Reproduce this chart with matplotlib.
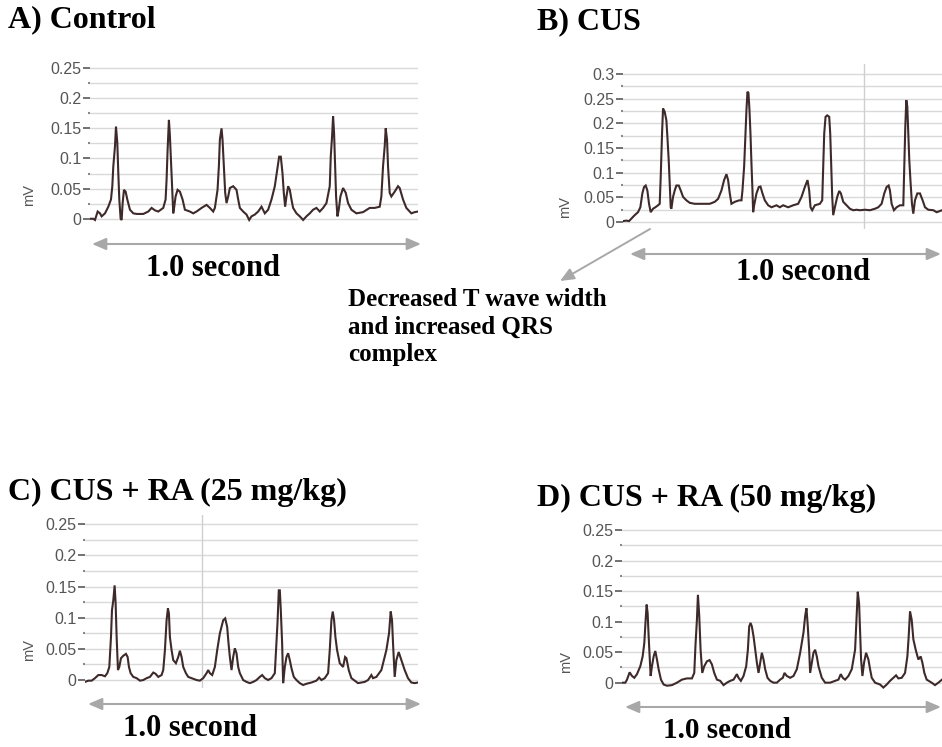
import matplotlib
matplotlib.use("Agg")
import matplotlib.pyplot as plt
import numpy as np

# ---------------- data (time in ms, voltage in mV) ----------------
ctrl_t = [0, 10, 15, 23, 30, 35, 45, 55, 63, 67, 70, 75, 78, 82, 85, 88, 92, 95, 98, 102, 107, 112, 120, 130, 140, 160,
          175, 185, 195, 205, 220, 227, 230, 233, 237, 240, 243, 247, 250, 253, 257, 263, 270, 278, 285, 300, 310, 320,
          335, 350, 360, 370, 375, 383, 387, 390, 395, 398, 402, 406, 410, 415, 420, 430, 440, 445, 450, 460, 470, 478,
          485, 495, 505, 515, 525, 535, 545, 555, 562, 568, 573, 578, 582, 586, 590, 595, 600, 605, 610, 620, 630, 640,
          650, 660, 670, 680, 690, 700, 710, 720, 723, 727, 730, 733, 736, 739, 743, 747, 752, 760, 768, 775, 785, 800,
          820, 840, 855, 870, 875, 880, 885, 888, 892, 895, 900, 905, 915, 925, 930, 940, 950, 965, 975, 985]
ctrl_mv = [0.0, 0.0, -0.002, 0.012, 0.009, 0.004, 0.009, 0.020, 0.032, 0.054, 0.087, 0.120, 0.153, 0.126, 0.076, 0.032,
           0.0, -0.002, 0.026, 0.048, 0.045, 0.032, 0.015, 0.009, 0.008, 0.008, 0.012, 0.018, 0.014, 0.012, 0.018, 0.032,
           0.065, 0.114, 0.164, 0.137, 0.098, 0.043, 0.009, 0.020, 0.037, 0.048, 0.045, 0.032, 0.015, 0.012, 0.009, 0.012,
           0.018, 0.023, 0.018, 0.012, 0.018, 0.048, 0.087, 0.131, 0.150, 0.131, 0.087, 0.043, 0.026, 0.037, 0.051, 0.054,
           0.048, 0.032, 0.018, 0.012, 0.007, -0.002, 0.004, 0.007, 0.012, 0.020, 0.009, 0.015, 0.032, 0.054, 0.081, 0.103,
           0.103, 0.076, 0.043, 0.020, 0.037, 0.054, 0.048, 0.032, 0.018, 0.009, 0.004, -0.002, 0.004, 0.009, 0.015, 0.018,
           0.012, 0.018, 0.026, 0.054, 0.103, 0.137, 0.170, 0.142, 0.087, 0.037, 0.004, 0.015, 0.037, 0.051, 0.043, 0.026,
           0.015, 0.009, 0.011, 0.018, 0.018, 0.020, 0.037, 0.087, 0.120, 0.150, 0.131, 0.087, 0.043, 0.037, 0.045, 0.054,
           0.051, 0.032, 0.018, 0.009, 0.011, 0.012]

cus_t = [0, 10, 18, 25, 35, 45, 52, 58, 63, 68, 73, 78, 83, 90, 97, 105, 110, 113, 117, 120, 125, 130, 133, 137, 140, 143,
         145, 150, 155, 160, 167, 173, 180, 190, 200, 215, 240, 260, 275, 285, 295, 303, 310, 315, 320, 325, 335, 348, 355,
         358, 363, 367, 370, 373, 376, 379, 382, 385, 388, 390, 393, 400, 407, 412, 418, 425, 435, 445, 460, 470, 480, 495,
         510, 525, 535, 545, 553, 558, 562, 567, 575, 590, 597, 600, 603, 607, 612, 618, 621, 624, 627, 630, 635, 642, 648,
         653, 660, 670, 680, 690, 700, 710, 725, 740, 755, 765, 775, 783, 790, 796, 800, 805, 812, 820, 830, 840, 843, 846,
         849, 852, 855, 858, 862, 866, 870, 875, 882, 890, 898, 905, 915, 930, 940, 956]
cus_mv = [0.002, 0.003, 0.002, 0.007, 0.014, 0.020, 0.030, 0.058, 0.071, 0.074, 0.064, 0.037, 0.020, 0.027, 0.030, 0.034,
          0.037, 0.091, 0.179, 0.230, 0.223, 0.206, 0.173, 0.125, 0.078, 0.030, 0.027, 0.051, 0.064, 0.074, 0.074, 0.064,
          0.051, 0.044, 0.039, 0.037, 0.037, 0.037, 0.041, 0.047, 0.064, 0.085, 0.097, 0.085, 0.058, 0.037, 0.041, 0.044,
          0.044, 0.064, 0.112, 0.179, 0.227, 0.264, 0.261, 0.227, 0.179, 0.118, 0.064, 0.020, 0.034, 0.058, 0.071, 0.072,
          0.058, 0.044, 0.034, 0.030, 0.034, 0.030, 0.034, 0.030, 0.034, 0.037, 0.051, 0.071, 0.085, 0.064, 0.030, 0.024,
          0.034, 0.037, 0.044, 0.112, 0.179, 0.213, 0.216, 0.213, 0.179, 0.112, 0.051, 0.014, 0.030, 0.051, 0.063, 0.058,
          0.041, 0.034, 0.027, 0.024, 0.025, 0.024, 0.025, 0.024, 0.027, 0.030, 0.037, 0.058, 0.071, 0.074, 0.064, 0.037,
          0.024, 0.030, 0.034, 0.034, 0.112, 0.193, 0.247, 0.234, 0.179, 0.125, 0.078, 0.037, 0.017, 0.044, 0.058, 0.058,
          0.044, 0.030, 0.025, 0.024, 0.020, 0.024]

ra25_t = [0, 10, 20, 30, 40, 50, 60, 67, 73, 78, 81, 85, 89, 92, 95, 99, 103, 108, 115, 123, 128, 132, 137, 145, 155, 165,
          175, 185, 195, 205, 212, 220, 230, 235, 240, 245, 249, 252, 255, 260, 265, 273, 280, 285, 290, 295, 303, 310,
          320, 335, 345, 355, 365, 370, 375, 382, 390, 397, 405, 415, 421, 427, 431, 435, 440, 445, 450, 455, 460, 465,
          475, 485, 495, 505, 515, 525, 532, 540, 550, 560, 570, 575, 578, 582, 585, 588, 592, 595, 600, 605, 610, 615,
          620, 627, 635, 645, 655, 665, 680, 695, 703, 710, 720, 730, 735, 740, 744, 748, 752, 757, 765, 775, 781, 785,
          792, 800, 810, 820, 830, 840, 850, 860, 865, 875, 890, 905, 913, 918, 922, 925, 930, 935, 942, 950, 960, 970,
          980, 990, 1000]
ra25_mv = [-0.003, -0.001, -0.001, 0.003, 0.008, 0.008, 0.006, 0.011, 0.021, 0.069, 0.112, 0.128, 0.152, 0.123, 0.069,
           0.016, 0.021, 0.035, 0.039, 0.042, 0.037, 0.021, 0.011, 0.005, 0.003, -0.001, 0.0, 0.003, 0.005, 0.012, 0.010,
           0.005, 0.008, 0.016, 0.048, 0.096, 0.115, 0.107, 0.069, 0.048, 0.032, 0.027, 0.037, 0.047, 0.037, 0.021, 0.011,
           0.005, 0.003, 0.0, -0.001, 0.003, 0.011, 0.016, 0.011, 0.008, 0.021, 0.048, 0.075, 0.096, 0.099, 0.085, 0.059,
           0.037, 0.016, 0.037, 0.051, 0.043, 0.021, 0.011, 0.0, -0.003, -0.005, -0.003, 0.0, 0.005, 0.008, 0.003, 0.0,
           0.003, 0.011, 0.059, 0.091, 0.144, 0.144, 0.112, 0.059, -0.005, 0.021, 0.037, 0.043, 0.032, 0.019, 0.005, 0.0,
           -0.005, -0.008, -0.006, -0.004, -0.001, 0.004, 0.0, 0.003, 0.011, 0.048, 0.096, 0.110, 0.096, 0.069, 0.048,
           0.027, 0.021, 0.037, 0.035, 0.016, 0.003, -0.001, -0.005, -0.004, -0.003, 0.0, 0.008, 0.003, 0.005, 0.016,
           0.048, 0.075, 0.110, 0.096, 0.059, 0.005, 0.032, 0.045, 0.032, 0.016, 0.003, -0.004, -0.005, -0.004]

ra50_t = [0, 10, 15, 23, 30, 37, 45, 55, 62, 67, 71, 74, 77, 80, 83, 86, 90, 95, 100, 105, 110, 117, 125, 135, 150, 165,
          180, 195, 210, 217, 221, 225, 228, 232, 236, 241, 247, 255, 263, 270, 277, 285, 295, 305, 315, 325, 335, 345,
          350, 357, 365, 373, 378, 382, 386, 390, 395, 400, 405, 410, 415, 420, 425, 430, 437, 445, 455, 465, 475, 483,
          488, 495, 505, 515, 525, 535, 545, 550, 554, 558, 562, 565, 570, 575, 580, 585, 590, 600, 610, 625, 640, 650,
          657, 663, 670, 680, 690, 700, 705, 708, 712, 715, 718, 722, 727, 733, 740, 745, 750, 760, 775, 785, 795, 805,
          815, 823, 830, 840, 850, 857, 861, 865, 870, 875, 882, 890, 897, 902, 908, 915, 930, 940, 950, 961]
ra50_mv = [0.0, 0.0, 0.005, 0.017, 0.011, 0.008, 0.014, 0.027, 0.043, 0.065, 0.103, 0.128, 0.114, 0.076, 0.043, 0.011,
           0.027, 0.043, 0.052, 0.038, 0.022, 0.005, -0.003, -0.005, -0.004, 0.0, 0.005, 0.007, 0.007, 0.016, 0.065, 0.103,
           0.144, 0.109, 0.054, 0.016, 0.027, 0.035, 0.037, 0.030, 0.016, 0.005, 0.003, -0.004, 0.0, 0.003, 0.005, 0.014,
           0.008, 0.003, 0.011, 0.027, 0.054, 0.092, 0.098, 0.092, 0.076, 0.054, 0.033, 0.016, 0.033, 0.049, 0.038, 0.022,
           0.008, 0.003, 0.0, 0.0, 0.005, 0.008, 0.016, 0.011, 0.008, 0.011, 0.022, 0.049, 0.082, 0.109, 0.122, 0.092,
           0.054, 0.016, 0.033, 0.049, 0.054, 0.043, 0.027, 0.008, 0.0, 0.0, 0.003, 0.005, 0.014, 0.008, 0.005, 0.011,
           0.022, 0.054, 0.114, 0.149, 0.130, 0.082, 0.038, 0.011, 0.033, 0.049, 0.038, 0.022, 0.008, 0.0, -0.003, -0.008,
           -0.003, 0.003, 0.008, 0.012, 0.007, 0.008, 0.016, 0.043, 0.076, 0.117, 0.103, 0.071, 0.054, 0.038, 0.043, 0.033,
           0.016, 0.005, 0.0, -0.004, 0.0, 0.005]

titles = ["A) Control", "B) CUS", "C) CUS + RA (25 mg/kg)", "D) CUS + RA (50 mg/kg)"]
yticks_low = [0, 0.05, 0.1, 0.15, 0.2, 0.25]
yticks_cus = [0, 0.05, 0.1, 0.15, 0.2, 0.25, 0.3]
ytick_labels_low = ["0", "0.05", "0.1", "0.15", "0.2", "0.25"]
ytick_labels_cus = ["0", "0.05", "0.1", "0.15", "0.2", "0.25", "0.3"]
duration_label = "1.0 second"
note_text = "Decreased T wave width\nand increased QRS\ncomplex"

# ---------------- figure ----------------
W, H = 942, 747
fig = plt.figure(figsize=(W / 100, H / 100), dpi=100)
fig.patch.set_facecolor("white")

def fx(px):
    return px / W

def fy(py):
    return 1 - py / H

serif = ["Liberation Serif", "DejaVu Serif"]
sans = ["Liberation Sans", "DejaVu Sans"]
trace_color = "#3e2a2a"
grid_color = "#d9d9d9"
tick_color = "#555555"

def make_panel(rect, t, mv, xmax, ymax_grid, ticks, labels, ylim, vline=None):
    ax = fig.add_axes(rect)
    ax.set_xlim(0, xmax)
    ax.set_ylim(*ylim)
    for s in ax.spines.values():
        s.set_visible(False)
    for g in np.arange(0, ymax_grid + 1e-9, 0.025):
        ax.axhline(g, color=grid_color, lw=1.0, zorder=1)
    if vline is not None:
        ax.axvline(vline, color="#cfcfcf", lw=1.0, zorder=1)
    ax.plot(t, mv, color=trace_color, lw=1.5, zorder=3, solid_joinstyle="miter")
    ax.set_xticks([])
    ax.set_yticks(ticks)
    ax.set_yticklabels(labels, fontfamily=sans, fontsize=11.5, color=tick_color)
    ax.set_yticks(np.arange(0.025, ymax_grid, 0.05), minor=True)
    ax.tick_params(axis="y", which="major", length=5, width=1.3, color="#666666", pad=1)
    ax.tick_params(axis="y", which="minor", length=1.5, width=1.5, color="#888888")
    return ax

# panel A
axA = make_panel([fx(90), fy(226), fx(328), 170 / H], ctrl_t, ctrl_mv, 985, 0.25,
                 yticks_low, ytick_labels_low, (-0.012, 0.27))
# panel B
axB = make_panel([fx(623), fy(229), fx(319), 165 / H], cus_t, cus_mv, 956, 0.3,
                 yticks_cus, ytick_labels_cus, (-0.014, 0.32), vline=722)
# panel C
axC = make_panel([fx(85), fy(687.5), fx(333), 172.5 / H], ra25_t, ra25_mv, 1000, 0.25,
                 yticks_low, ytick_labels_low, (-0.012, 0.265), vline=350)
# panel D
axD = make_panel([fx(622), fy(690), fx(320), 169 / H], ra50_t, ra50_mv, 961, 0.25,
                 yticks_low, ytick_labels_low, (-0.012, 0.265))

# "mV" axis labels
for (x, y) in [(29, 195), (565, 207), (29, 650), (566, 662)]:
    fig.text(fx(x), fy(y), "mV", rotation=90, fontfamily=sans, fontsize=10.5, color=tick_color,
             ha="center", va="center")

# titles
fig.text(fx(8), fy(20), titles[0], fontfamily=serif, fontweight="bold", fontsize=23, va="center", ha="left")
fig.text(fx(537), fy(22), titles[1], fontfamily=serif, fontweight="bold", fontsize=23, va="center", ha="left")
fig.text(fx(8), fy(492), titles[2], fontfamily=serif, fontweight="bold", fontsize=23, va="center", ha="left")
fig.text(fx(537), fy(498), titles[3], fontfamily=serif, fontweight="bold", fontsize=23, va="center", ha="left")

# duration arrows
arrow_kw = dict(arrowstyle="<|-|>,head_length=0.7,head_width=0.3", color="#a8a8a8", lw=1.5,
                shrinkA=0, shrinkB=0, mutation_scale=12)
for (x0, x1, y, tx, ty, fs) in [(92, 421, 244, 213, 268, 22), (630, 941, 254, 803, 272, 22),
                                 (88, 421, 704, 190, 729, 22), (625, 941, 707, 727, 731, 21)]:
    fig.add_artist(matplotlib.patches.FancyArrowPatch((fx(x0), fy(y)), (fx(x1), fy(y)),
                                                      transform=fig.transFigure, **arrow_kw))
    fig.text(fx(tx), fy(ty), duration_label, fontfamily=serif, fontweight="bold", fontsize=fs,
             ha="center", va="center")

# annotation arrow and text
fig.add_artist(matplotlib.patches.FancyArrowPatch((fx(650), fy(229)), (fx(560), fy(281)),
                                                  transform=fig.transFigure,
                                                  arrowstyle="-|>,head_length=0.7,head_width=0.3",
                                                  mutation_scale=12,
                                                  color="#a8a8a8", lw=1.4, shrinkA=0, shrinkB=0))
for i, line in enumerate(note_text.split("\n")):
    fig.text(fx(348), fy(300 + 27.5 * i), line, fontfamily=serif, fontweight="bold", fontsize=18,
             ha="left", va="center")

fig.savefig("out.png", dpi=100, facecolor="white")
